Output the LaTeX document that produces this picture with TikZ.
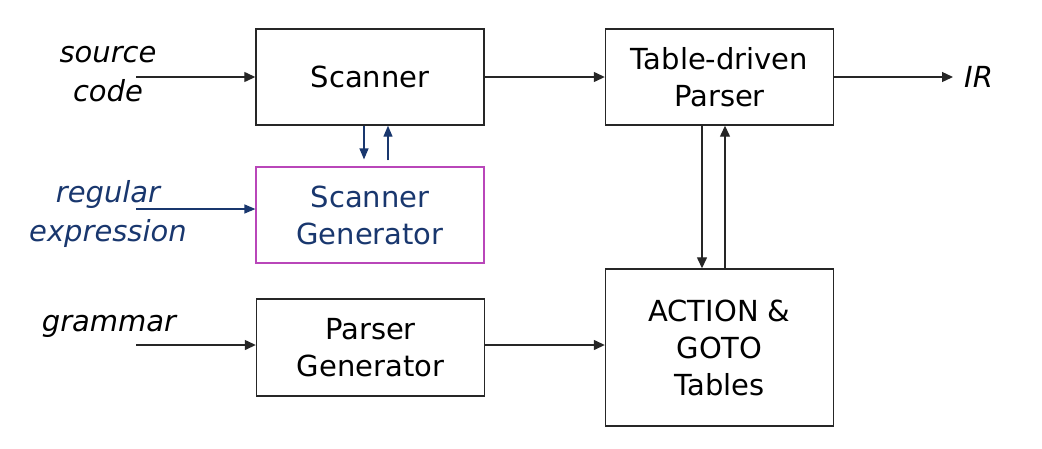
\documentclass[tikz,border=0pt]{standalone}
\usepackage{fontspec}
\setmainfont{DejaVu Sans}
\usetikzlibrary{arrows.meta}
\definecolor{navy}{RGB}{25,55,110}
\definecolor{boxmag}{RGB}{185,70,185}
\begin{document}
\begin{tikzpicture}[x=1pt,y=-1pt,
  box/.style={draw=black!85,line width=1.4pt,minimum width=228pt,minimum height=96pt,inner sep=0pt,align=center,font=\fontsize{29}{37}\selectfont},
  lbl/.style={align=center,inner sep=0pt,font=\fontsize{29}{39}\selectfont\itshape},
  arr/.style={-{Triangle[length=11pt,width=10pt]},line width=1.3pt,draw=black!85},
  barr/.style={-{Triangle[length=11pt,width=9pt]},line width=1.2pt,draw=navy,fill=navy}]
\useasboundingbox (0,0) rectangle (1042,448);
\node[box] (scan) at (370,77) {Scanner};
\node[box,draw=boxmag,text=navy,line width=1.2pt] (sgen) at (370,215) {Scanner\\Generator};
\node[box,minimum height=97pt] (pgen) at (370.5,347.5) {Parser\\Generator};
\node[box] (tdp) at (719.5,77) {Table-driven\\Parser};
\node[box,minimum height=157pt] (tab) at (719.5,347.5) {ACTION \&\\GOTO\\Tables};
\node[lbl] (src) at (108,74.5) {source\\code};
\node[lbl,text=navy] (rex) at (108,213.5) {regular\\expression};
\node[lbl] (gram) at (109,326) {grammar};
\node[lbl,anchor=west] (irl) at (964,77) {IR};
\coordinate (s0) at (136,77);
\coordinate (r0) at (136,209);
\coordinate (g0) at (136,345);
\coordinate (p0) at (485,345);
\coordinate (ir) at (953,77);
\draw[arr] (s0) -- (scan.west);
\draw[arr] (scan.east) -- (tdp.west);
\draw[arr] (tdp.east) -- (ir);
\draw[barr] (r0) -- (r0 -| sgen.west);
\draw[arr] (g0) -- (g0 -| pgen.west);
\draw[arr] (p0) -- (p0 -| tab.west);
\draw[barr] ([xshift=-6pt]scan.south) -- ([xshift=-6pt,yshift=7pt]sgen.north);
\draw[barr] ([xshift=18pt,yshift=6pt]sgen.north) -- ([xshift=18pt]scan.south);
\draw[arr] ([xshift=-17.5pt]tdp.south) -- ([xshift=-17.5pt]tab.north);
\draw[arr] ([xshift=5.5pt]tab.north) -- ([xshift=5.5pt]tdp.south);
\end{tikzpicture}
\end{document}
